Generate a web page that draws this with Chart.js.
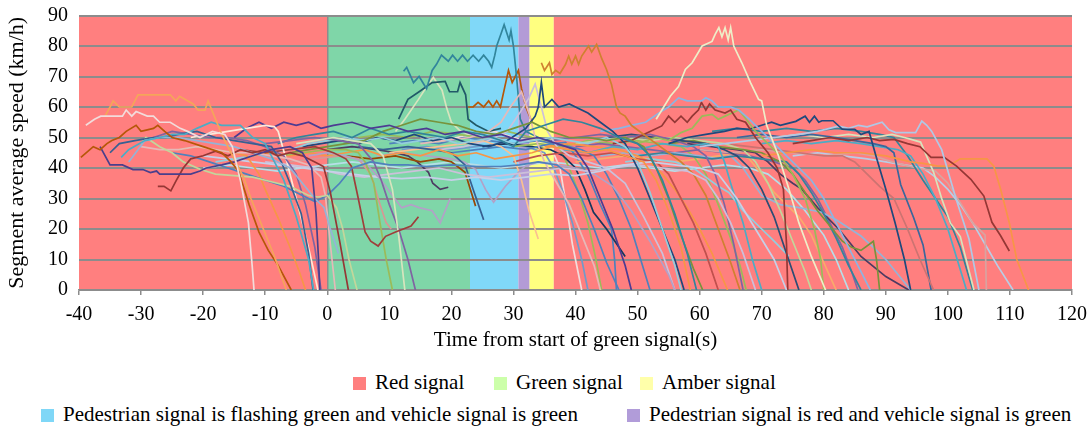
<!DOCTYPE html>
<html>
<head>
<meta charset="utf-8">
<script src="https://cdn.jsdelivr.net/npm/chart.js@4.4.1/dist/chart.umd.min.js"></script>
<style>
  body { margin: 0; background: #fff; font-family: "Liberation Serif", "Times New Roman", serif; }
  #wrap { position: relative; width: 1090px; height: 428px; }
  #box { position: absolute; left: 0; top: 0; width: 1090px; height: 360px; }
  .leg { position: absolute; font-size: 21px; color: #000; white-space: nowrap; line-height: 22px; }
  .leg i { display: inline-block; width: 13px; height: 13px; margin-right: 9px; vertical-align: -1px; }
</style>
</head>
<body>
<div id="wrap">
  <div id="box"><canvas id="speedChart"></canvas></div>
  <div class="leg" style="left:353px; top:371px"><i style="background:#FF7F7F"></i>Red signal</div>
  <div class="leg" style="left:494px; top:371px"><i style="background:#CCFFAA"></i>Green signal</div>
  <div class="leg" style="left:640px; top:371px"><i style="background:#FFFFAA"></i>Amber signal</div>
  <div class="leg" style="left:41px; top:403px"><i style="background:#7FD7F7"></i>Pedestrian signal is flashing green and vehicle signal is green</div>
  <div class="leg" style="left:627px; top:403px"><i style="background:#B19CD9"></i>Pedestrian signal is red and vehicle signal is green</div>
</div>
<script>
// signal phases (s from start of green)
const phaseEdges = [-40, 0, 23, 30.8, 32.6, 36.5, 120];
const phaseColors = ['#FF7F7F', '#7FD6A8', '#80D8F8', '#B39BD6', '#FFFF80', '#FF7F7F'];

const xTicks = [-40, -30, -20, -10, 0, 10, 20, 30, 40, 50, 60, 70, 80, 90, 100, 110, 120];
const yTicks = [0, 10, 20, 30, 40, 50, 60, 70, 80, 90];

// vehicle trajectories: [time (s), speed (km/h)]
const v01 = [[-38.9,54],[-37.5,56],[-36.5,57],[-34,57],[-33,57],[-32.4,59],[-31.5,57],[-30.8,58.5],[-29,57],[-28,57],[-27,55],[-25.3,55],[-23.7,53],[-22.5,52],[-20.5,50],[-18.5,52],[-16.5,51],[-15.3,47],[-14,36],[-12.7,22],[-12.1,8],[-11.8,0]];
const v02 = [[-35.8,57],[-35,60],[-34.5,62],[-33.5,60],[-31.5,60],[-30.5,64],[-25.3,64],[-24.4,62],[-23.8,63.5],[-21.6,61],[-20.8,59],[-19.7,59],[-19.2,62],[-18.4,58],[-17,51],[-15.5,45],[-13.5,37],[-12.3,30],[-10.5,21],[-8.5,11],[-6.6,0]];
const v03 = [[-39.7,43.5],[-37.7,47],[-36.6,46],[-35.5,48],[-34.7,49],[-33.5,50],[-32.4,52],[-30.8,54],[-30,52],[-28,53],[-27.3,54],[-26.2,52],[-25,50],[-23,49],[-20,47],[-17,45],[-15.5,42],[-14.3,39],[-12.6,28],[-11,19],[-9.5,13],[-7.9,8],[-5.8,0]];
const v04 = [[-36.6,47],[-35,41],[-33,41],[-31.3,39.5],[-29.7,39.5],[-28.5,38.5],[-27.5,39],[-27,38],[-22,38],[-20.5,39],[-19.5,40],[-17,41],[-15,42],[-12,44],[-9,46],[-6,47],[-4,45],[-2.5,40],[-1.8,25],[-1.4,10],[-1.2,0]];
const v05 = [[-27.3,34],[-26.3,34],[-25.2,32.5],[-24.3,36],[-23.2,40],[-22,43],[-20,44],[-18,45.5],[-16,44],[-14,46],[-12,45],[-10,46],[-8,44],[-6,45],[-4,44],[-2,42],[-0.6,40.5],[0.5,32],[2,16],[3.4,0]];
const v06 = [[-33.2,43.5],[-32,46],[-29.4,49],[-27,50],[-25,51],[-23,51],[-21,53],[-18.7,55],[-17,54],[-14,54],[-12,50],[-10,48],[-9,44],[-7,36],[-5,24],[-3,10],[-2.2,0]];
const v07 = [[-32,42],[-30.5,46],[-29.4,49],[-27,50],[-24,50],[-21,49],[-18,48],[-15,47],[-12,45],[-9,43],[-6,40],[-4,35],[-2,30],[-0.5,27],[0.5,20],[1.8,12]];
const v08 = [[-35,45],[-33.5,48],[-31,49],[-28,50],[-26,50],[-24,51],[-21,52],[-18,50],[-15,49],[-12,48],[-9,47],[-7.4,42],[-6,35],[-4.2,25],[-3,12],[-2.3,0]];
const v09 = [[-30,48],[-29.2,50],[-27,47],[-25,45],[-23.2,42],[-20.5,39.6],[-18,38],[-15,37.5],[-12,37],[-9,35.5],[-6,34],[-3,31],[-1.5,30.5],[0,31],[1.5,27],[2.5,20],[3.5,10],[4.8,0]];
const v10 = [[-25,45],[-22,44],[-19,42],[-16,40],[-13,38],[-10,36],[-7,34],[-4,31],[-2,29],[0,31],[2,35],[4,40],[7,42],[10,41],[13,41],[16,40.5],[20,41],[24,40.5],[28,40.5],[31,41],[34,42],[37,41],[39,38],[41,30],[43,20],[45,9],[47,0]];
const v11 = [[-30,47],[-27,46],[-24,46],[-21,47],[-18,46],[-15,45],[-12,45],[-9,44],[-6,43],[-3,41],[-1,37],[-0.3,31],[0.5,15],[1.3,0]];
const v12 = [[-24,46],[-21,47],[-18,46],[-15,45],[-13,44],[-11,38],[-10,33],[-8,24],[-6,14],[-4.5,6],[-3.5,0]];
const v13 = [[-28,50],[-25,52],[-22,51],[-19,50],[-16,50],[-13,49],[-10,47],[-7,44],[-5,38],[-3.5,28],[-2,14],[-1,0]];
const v14 = [[-22,50],[-19,51],[-16,52],[-13,53],[-10,54],[-8.5,53.5],[-7.9,52],[-6.5,42],[-5,30],[-4,22],[-2.8,12],[-1.5,0]];
const v15 = [[-14,46],[-10,45],[-6,46],[-2,47],[1,45],[3,43],[3.9,40.5],[5,30],[6.1,19],[7,16],[8.2,14.4],[9.4,17.6],[11,19],[13.5,21],[14.7,24]];
const v16 = [[-8,44],[-4,45],[0,46],[3,46],[5,45],[6.1,42],[7.5,35],[8.5,22],[9.5,10],[10.5,0]];
const v17 = [[-5,48],[-2,49],[1,50],[4,49],[7,48],[9,44],[10.5,33],[11.5,18],[12.5,0]];
const v18 = [[-10,48],[-6,49],[-2,50],[2,49],[5,48],[7.5,42],[8.7,36],[10,28],[11.5,20],[13,10],[14.2,0]];
const v19 = [[-3,44],[0,45],[3,44],[6,42],[8.7,36],[10.5,31],[12,27],[13.5,28],[14.8,27],[16.9,26],[18.2,22],[19.8,30]];
const v20 = [[-6,42],[-2,43],[2,44],[5,43],[7,38],[8.5,28],[9.5,22],[10.3,20]];
const v21 = [[-15,50],[-13,53],[-11,55],[-9,53],[-7,55],[-5,54],[-3,55],[-1,53],[1,54],[4,55],[7,53],[10,54],[13,52],[16,53],[19,51],[22,52],[25,50],[28,51],[31,49],[34,50],[37,48],[40,46],[42,40],[44,30],[46,20],[48,8],[49,0]];
const v22 = [[-8,48],[-5,50],[-2,51],[1,52],[4,50],[7,53],[10,51],[13,52],[16,51],[19,50],[22,52],[25,51],[28,49],[30,47],[32,52],[35,54],[38,56],[41,55],[44,53],[47,50],[50,48],[52,44],[54,36],[56,25],[58,12],[59.5,0]];
const v23 = [[-12,44],[-9,45],[-6,44],[-3,45],[0,44],[3,45],[6,46],[9,44],[12,45],[15,44],[18,46],[21,44],[24,45],[27,43],[30,44],[33,45],[36,47],[39,46],[42,45],[45,46],[48,44],[51,42],[53,36],[55,26],[57,14],[58.5,0]];
const v24 = [[-6,45],[-3,46],[0,47],[3,48],[6,49],[9,52],[12,54],[15,56],[18,55],[21,54],[24,52],[27,51],[30,53],[33,55],[36,52],[39,50],[42,50],[45,49],[48,50],[51,47],[53,40],[55,30],[57,18],[59,7],[60.5,0]];
const v25 = [[-18,42],[-15,43],[-12,44],[-9,45],[-6,46],[-3,48],[0,49],[3,50],[6,49],[9,50],[12,48],[15,49],[18,50],[21,48],[24,49],[27,50],[30,48],[33,49],[36,50],[39,49],[42,48],[45,50],[48,47],[50,42],[52,32],[54,20],[56,8],[57,0]];
const v26 = [[-4,47],[-1,48],[2,49],[5,48],[8,50],[11,49],[14,51],[17,49],[20,50],[23,48],[26,47],[29,49],[32,53],[33.5,57],[34,60],[34.5,68],[35,60],[36.2,62.5],[37.3,60],[39,61],[40,60],[42,58],[44,55],[46,52],[48,48],[50,40],[52,30],[54,20],[56,10],[57.5,0]];
const v27 = [[-20,44],[-16,43],[-12,42],[-8,41],[-4,40],[0,39],[4,38],[8,37],[12,36.5],[16,37],[20,36],[24,37],[28,36],[32,37],[36,38],[40,37.5],[44,39],[48,41],[52,42],[56,41],[60,40],[63,38],[66,30],[69,20],[72,10],[74,0]];
const v28 = [[-10,42],[-6,41],[-2,40],[2,38],[6,37],[10,38],[14,39],[18,40],[22,38],[26,37],[30,38],[34,39],[38,40],[42,39],[46,40],[50,41],[54,40],[58,39],[61,36],[63,30],[65,22],[67,12],[69,0]];
const v29 = [[5,47],[9,46],[13,47],[17,46],[20,45],[22.2,41],[23.5,33],[25.2,23]];
const v30 = [[3,44],[7,43],[11,44],[15,42],[18,43],[20,42],[22.2,38.6],[23.9,27.5]];
const v31 = [[8,44],[12,45],[16,44],[20,43],[22,42],[23.9,39.6],[25.5,33],[26.8,28.8],[28.7,34],[30.5,38],[31.9,40.6],[34,42],[37,41],[40,40],[43,38],[46,34],[49,26],[52,16],[55,5],[56,0]];
const v32 = [[10,45],[14,46],[18,47],[22,48],[25,49],[28,47],[30,44],[31.3,36],[32.5,26],[34,16.7]];
const v33 = [[15,48],[19,49],[23,50],[26,52],[28,55],[29.5,60],[31.3,65],[32.5,58],[33.5,50],[35,42],[37,35],[39,28],[41,18],[43,8],[44,0]];
const v34 = [[18,46],[22,47],[26,49],[29,52],[31,58],[32.5,63],[33.5,67.5],[34.5,60],[35.5,52],[37,47],[39,44],[42,42],[45,40],[48,35],[51,24],[54,12],[56,0]];
const v35 = [[12.3,71.7],[12.8,73],[13.9,68],[14.8,70],[16,66],[16.9,72],[17.6,74],[18.4,77],[19.5,75],[20.2,77],[21,75],[21.8,77],[22.6,75],[23.5,77],[24.4,75],[25.2,77],[26,75],[26.5,73],[27,77],[27.3,80],[28,84],[28.5,87],[29.3,82],[29.6,85],[30,80],[30.5,70],[31.1,56],[32,52],[34,50],[36,49]];
const v36 = [[11.5,56],[13,62.5],[14.8,65],[16.9,68],[19,68.4],[19.7,65],[21,65],[21.4,68],[22.3,64],[22.7,56],[24,54],[26,52],[28,53]];
const v37 = [[22.7,60],[23.5,60],[24.3,61.5],[25.2,60],[26,62],[26.7,60],[27.3,62],[27.9,60],[28.6,66.5],[29.2,72],[29.8,68],[30.3,70],[30.8,72],[31.3,66],[32,60],[33,55]];
const v38 = [[11,52],[12.5,56],[14.7,62.5],[15.8,66],[17.1,69.7],[18.5,65.5],[19.2,60],[20,55],[21.5,52],[23,51]];
const v39 = [[34.5,74.5],[35,72],[35.8,74.5],[36.2,70.7],[36.8,72],[37.5,71],[38.4,74],[38.9,76.7],[39.4,74],[40,76.7],[40.5,74],[41,76.7],[42.1,80],[42.6,78],[43.4,80.5],[44.2,76],[45,72.3],[45.8,67.4],[46.6,60],[47.2,58],[48,57],[49,54],[51,51],[53,48],[55,45],[57,42],[59,38],[61,31],[63,20],[65,9],[66.5,0]];
const v40 = [[53,56],[55.3,63.6],[56.6,66.7],[57.7,72.3],[58.8,74.5],[60.4,80],[62,81.5],[62.5,83.8],[63.1,86],[63.6,83],[64.1,86],[64.6,82],[65,86],[65.5,80],[66.8,74.5],[68.2,68],[69.5,62.5],[70,62],[70.8,54],[72.7,44],[74.4,33],[76,22],[78,11],[80.3,0]];
const v41 = [[44,52],[47,53],[49,54],[51.3,55],[53.4,58],[55,60],[56.6,63],[58,62],[60.3,62],[61,63],[62,62],[63,60],[65,60],[66.3,59],[68,56],[70,52],[72,48],[74,44],[76,40],[78,36],[80,30],[82,22],[84,14],[86,6],[87.5,0]];
const v42 = [[46,48],[49,49],[51,51],[53.9,53.8],[55,57],[56,55],[57,57],[58,55],[58.8,57],[59.8,59],[60.3,61.5],[61,59],[61.6,61],[62.5,59],[64.1,58],[65,59],[66,56],[67.4,55],[69,50],[71,45],[72.5,40],[73.5,33],[74,15],[74.2,0]];
const v43 = [[50,48],[53,50],[55,49],[57,51.6],[58.8,53],[60.4,57],[62,57.6],[63,56],[64.1,57],[66.3,59],[67.5,56],[69,52],[71,48],[73,44],[75,38],[77,30],[78.5,20],[79.5,10],[80,0]];
const v44 = [[55,48],[58,50],[61,51],[64,52],[66,53],[67.9,52.7],[70,54],[71.6,55],[73,54],[75.5,55.3],[77,57],[77.7,55],[78.5,57],[79.2,55],[79.7,55.5],[81.5,55.5],[83,52.7],[85,52.7],[86,51],[87.3,52],[88.4,44],[90,33],[91.5,22],[93,10],[94,0]];
const v45 = [[60,47],[64,48],[68,49],[72,50],[76,51],[79,52],[82.4,53.7],[84,53],[85.6,54],[87,53.5],[89.4,55],[90.5,52.5],[91.6,51.6],[94.8,51.6],[95.8,55.4],[96.6,54],[97.4,52],[99,46],[101.3,30],[103.4,16.7],[105,0]];
const v46 = [[75,48],[78,49],[81,50],[84,49],[87,50],[89,49],[91.3,49.4],[93.5,48],[95.5,47],[97.3,43.5],[99.4,43.5],[101.4,40.6],[103.7,36.3],[105.8,30.8],[107.1,22.2],[108.5,17.8],[109.9,12.8]];
const v47 = [[70,44],[74,45],[78,46],[82,45],[86,45],[90,44],[92,43],[94,42],[96,41.5],[98.2,40.7],[100,40.5],[102,43],[106.3,43],[107.4,40.6],[108.5,33],[109.9,22],[111.1,10],[113,0]];
const v48 = [[20,45],[24,46],[28,47],[32,46],[36,48],[39,47],[41,46],[43,44],[45,38],[47,30],[49,20],[50.5,10],[52,0]];
const v49 = [[30,42],[34,44],[38,45],[42,44],[46,45],[50,43],[53,42],[55,38],[57,30],[59,22],[61,12],[63,0]];
const v50 = [[38,46],[42,45],[46,47],[50,46],[54,48],[58,47],[61,48],[63,47],[64,42],[65,35],[67,22],[68.5,10],[70,0]];
const v51 = [[36,49],[40,50],[44,51],[48,50],[52,51],[56,49],[59,47],[61,44],[62.5,38],[64,28],[65.5,15],[67,0]];
const v52 = [[35,47],[39,48],[43,47],[47,46],[50,44],[52,42],[54,38],[56,33],[58,27],[60,20],[62,12],[64.5,0]];
const v53 = [[45,50],[49,51],[53,50],[57,49],[61,48],[64,46],[66,44],[68,40],[70,33],[72,24],[74,12],[76,0]];
const v54 = [[55,48],[59,49],[63,47],[67,46],[70,45],[73,42],[75,38],[77,32],[79,26],[81,21],[83,16],[84.5,14],[86,13],[88,16],[88.5,10],[89,0]];
const v55 = [[50,44],[54,45],[58,44],[62,43],[66,44],[70,43],[74,42],[76,38],[78,32],[80,25],[82,17],[84,8],[86,0]];
const v56 = [[40,48],[44,49],[48,50],[52,49],[56,50],[60,49],[64,48],[67,46],[69,42],[71,35],[73,26],[75,16],[77,6],[78,0]];
const v57 = [[48,42],[52,43],[56,42],[59,40],[61,37],[63,34],[64.7,32],[67,26],[70,20],[72,16],[74.4,11]];
const v58 = [[44,44],[48,45],[52,44],[56,45],[60,44],[63,43],[65,44],[67,40],[70,31],[73,28],[76,27],[79.7,25.5],[82,23],[86,17.7],[88,14],[90,10],[92,5],[94,0]];
const v59 = [[58,48],[62,47],[66,46],[69,45],[71,42],[73,38],[75,35],[76.5,33],[79,27],[82.4,20],[86,11],[90,4.4],[93.7,0]];
const v60 = [[60,47],[64,48],[68,47],[72,46],[76,45],[80,44],[83,44],[85,42],[87,38],[89,34],[91.3,30],[93.5,20],[95.5,10],[97.7,0]];
const v61 = [[66,50],[70,51],[74,50],[78,51],[82,50],[85,49],[88,48],[90,47],[91.3,45],[92.4,34.5],[94.5,23.6],[96,14.8],[97.3,0]];
const v62 = [[70,48],[74,49],[78,48],[82,49],[86,48],[89,47],[92,46],[94,44],[96,38],[98,30],[100,20],[101.5,10],[103,0]];
const v63 = [[72,50],[76,51],[80,50],[84,51],[88,50],[91,51],[93,50],[95.6,48.5],[97.7,38.6],[99,30],[100.4,22],[102,17.5],[104.2,0]];
const v64 = [[62,52],[66,53],[70,52],[74,53],[78,52],[82,53],[86,52],[89,51],[91.3,50],[93.5,44],[96,36],[98,30],[100,24],[102,14],[104,0]];
const v65 = [[60,46],[65,45],[70,46],[75,45],[80,44],[85,45],[88,44],[91,42],[95,40],[98,39],[100,35],[102.5,27],[104,22],[106,18],[106.2,0]];
const v66 = [[75,44],[79,45],[83,44],[87,43],[90,42],[93,41],[96,40],[98,37],[100,33],[102,28],[104,22],[106,15],[108,8],[110.5,0]];
const v67 = [[40,47],[44,48],[48,47],[52,46],[56,45],[60,46],[64,45],[68,44],[72,42],[75,40],[77,36],[79,30],[81,22],[83,14],[84.5,6],[85.5,0]];
const v68 = [[30,47],[34,48],[38,47],[42,49],[46,48],[50,49],[54,48],[57,47],[59,44],[61,38],[63,28],[65,17],[66.5,8],[67.5,0]];
const v69 = [[40,42],[44,43],[48,44],[52,43],[56,42],[60,43],[63,44],[66,45],[68,43],[70,38],[72,32],[74,28],[76,24],[78,18],[80,9],[82,0]];
const v70 = [[25,47],[29,48],[33,47],[36,46],[38,44],[40,40],[41.5,33],[42.9,25.5],[45,20],[47,14],[48,11]];
const v71 = [[10,48],[14,49],[18,48],[22,50],[26,49],[30,48],[34,49],[36.5,48],[38.4,48.4],[40,44],[42.1,37.4],[44,28],[45.8,20],[46.3,10],[46.6,0]];
const v72 = [[12,46],[16,47],[20,46],[24,47],[28,48],[32,47],[35,45],[36.5,40],[38,32],[39.5,22],[41,10],[42,0]];
const v73 = [[5,50],[9,51],[13,50],[17,52],[21,51],[25,50],[29,52],[33,50],[35.5,49],[37.3,47],[39,40],[40.5,32],[42,22],[43.2,11],[44.2,0]];
const v74 = [[15,50],[19,49],[23,51],[27,52],[30,50],[33,49],[36,47],[37.5,40],[38.5,28],[39.5,15],[40.5,5],[41,0]];
const v75 = [[0,46],[4,47],[8,46],[11,45],[13,44],[14.5,42],[16.3,38.6],[17,35],[18.2,33],[19.5,33.7]];
const v76 = [[-20,40],[-16,41],[-12,40],[-8,39],[-4,40],[0,41],[4,42],[8,41],[12,40],[16,41],[20,42],[24,41],[28,40],[32,41],[36,42],[40,41],[44,40],[48,41],[52,40],[56,39],[60,40],[64,41],[68,40],[71,38],[74,33],[77,26],[80,18],[82,10],[84,0]];

const vehicles = [v01, v02, v03, v04, v05, v06, v07, v08, v09, v10, v11, v12, v13, v14, v15, v16, v17, v18, v19, v20,
  v21, v22, v23, v24, v25, v26, v27, v28, v29, v30, v31, v32, v33, v34, v35, v36, v37, v38, v39, v40,
  v41, v42, v43, v44, v45, v46, v47, v48, v49, v50, v51, v52, v53, v54, v55, v56, v57, v58, v59, v60,
  v61, v62, v63, v64, v65, v66, v67, v68, v69, v70, v71, v72, v73, v74, v75, v76];

const lineColors = ['#F2DCDB', '#F5A55A', '#B65708', '#4A3F8C', '#953735', '#4BACC6', '#95B3D7', '#376092', '#C3D69B', '#4F81BD',
  '#E6B9B8', '#F79646', '#8064A2', '#FDE9D9', '#9F3E3A', '#9BBB59', '#D7E4BD', '#8064A2', '#B2A1C7', '#D99694',
  '#4D3B92', '#31859C', '#F79646', '#77933C', '#93CDDD', '#1F497D', '#C6D0E8', '#CCC0DA', '#376092', '#984807',
  '#B2A1C7', '#FAC090', '#E6B9B8', '#CCC0DA', '#31859C', '#215968', '#B65708', '#D7E4BD', '#D08030', '#EEEEC8',
  '#8DB4E2', '#953735', '#9BBB59', '#1F497D', '#B0C8E6', '#953735', '#F79646', '#4F81BD', '#C0504D', '#4BACC6',
  '#8064A2', '#F79646', '#2C4D75', '#77933C', '#31859C', '#C3D69B', '#93CDDD', '#95B3D7', '#4D3B62', '#CD7371',
  '#3A679C', '#4BACC6', '#D7E4BD', '#31859C', '#D9A3A0', '#B9CDE5', '#8064A2', '#9BBB59', '#F9AB6B', '#17375E',
  '#4F81BD', '#729ACA', '#9BBB59', '#F2DCDB', '#4D3B62', '#B7DEE8'];

const phaseBands = {
  id: 'phaseBands',
  beforeDraw(chart) {
    const { ctx, chartArea: a, scales: { x } } = chart;
    ctx.save();
    for (let i = 0; i < phaseColors.length; i++) {
      const x0 = x.getPixelForValue(phaseEdges[i]);
      const x1 = x.getPixelForValue(phaseEdges[i + 1]);
      ctx.fillStyle = phaseColors[i];
      ctx.fillRect(x0, a.top, x1 - x0, a.bottom - a.top);
    }
    ctx.restore();
  }
};

const serif = 'Liberation Serif';

new Chart(document.getElementById('speedChart'), {
  type: 'line',
  data: {
    datasets: vehicles.map((v, i) => ({
      data: v.map(([t, s]) => ({ x: t, y: s })),
      borderColor: lineColors[i],
      borderWidth: 1.7,
      pointRadius: 0,
      fill: false,
      tension: 0
    }))
  },
  options: {
    responsive: true,
    maintainAspectRatio: false,
    animation: false,
    layout: { padding: { top: 0, right: 0, left: 0, bottom: 3 } },
    plugins: { legend: { display: false }, tooltip: { enabled: false } },
    scales: {
      x: {
        type: 'linear',
        min: -40,
        max: 120,
        afterBuildTicks: s => { s.ticks = xTicks.map(v => ({ value: v })); },
        afterFit: s => { s.paddingRight = 18; s.height = 67; },
        ticks: { color: '#000', font: { family: serif, size: 20 }, padding: 8, maxRotation: 0 },
        grid: {
          color: c => (c.tick && c.tick.value === 0 ? '#8C8C8C' : 'rgba(0,0,0,0)'),
          lineWidth: 1.5,
          tickColor: '#8C8C8C',
          tickLength: 5
        },
        border: { color: '#8C8C8C', width: 1.5 },
        title: { display: true, text: 'Time from start of green signal(s)', color: '#000', font: { family: serif, size: 21 }, padding: { top: 0, bottom: 4 } }
      },
      y: {
        min: 0,
        max: 90,
        afterBuildTicks: s => { s.ticks = yTicks.map(v => ({ value: v })); },
        afterFit: s => { s.width = 79; s.paddingTop = 15.5; },
        ticks: { color: '#000', font: { family: serif, size: 20 }, padding: 11 },
        grid: { color: '#8C8C8C', lineWidth: 2, drawTicks: false },
        border: { display: false },
        title: { display: true, text: 'Segment average speed (km/h)', color: '#000', font: { family: serif, size: 22 }, padding: { top: 4, bottom: 4 } }
      }
    }
  },
  plugins: [phaseBands]
});
</script>
</body>
</html>
